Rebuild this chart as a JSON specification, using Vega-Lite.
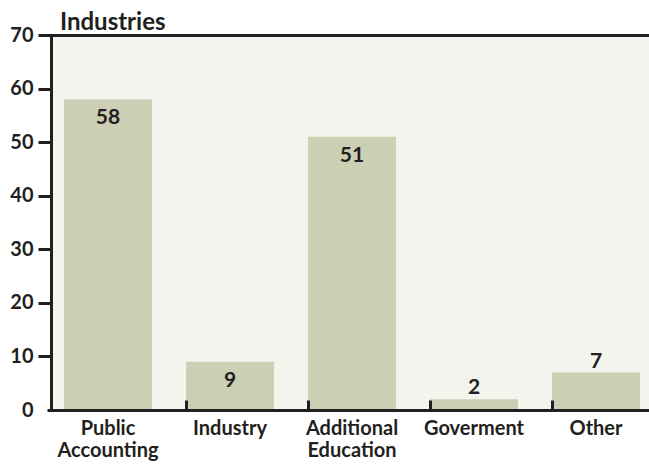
{
  "$schema": "https://vega.github.io/schema/vega-lite/v6.json",
  "width": 598,
  "height": 375,
  "autosize": {"type": "none"},
  "padding": {"left": 51, "top": 35, "right": 0, "bottom": 54},
  "background": "white",
  "title": {"text": "Industries", "anchor": "start", "frame": "group", "dx": 9, "offset": -29, "fontSize": 24, "font": "Lato", "fontWeight": "bold", "color": "#231f20", "baseline": "alphabetic"},
  "config": {"view": {"fill": "#f3f4ee", "stroke": null}, "font": "Lato"},
  "data": {"values": [
    {"industry": "Public Accounting", "count": 58},
    {"industry": "Industry", "count": 9},
    {"industry": "Additional Education", "count": 51},
    {"industry": "Goverment", "count": 2},
    {"industry": "Other", "count": 7}
  ]},
  "encoding": {
    "x": {"field": "industry", "type": "nominal", "sort": null,
      "scale": {"range": [-4, 606], "paddingInner": 0.28, "paddingOuter": 0.14},
      "axis": {"title": null, "labelAngle": 0, "labelFontSize": 20, "labelFont": "Lato", "labelFontWeight": "bold", "labelColor": "#231f20",
        "labelExpr": "split(datum.label, ' ')", "labelLineHeight": 22, "labelPadding": 18, "labelBaseline": "top",
        "domainColor": "#231f20", "domainWidth": 3, "tickColor": "#231f20", "tickWidth": 3, "tickSize": -10, "bandPosition": 0,
        "tickOpacity": {"condition": {"test": "datum.value === 'Public Accounting'", "value": 0}, "value": 1}, "zindex": 1}},
    "y": {"field": "count", "type": "quantitative", "scale": {"domain": [0, 70]},
      "axis": {"title": null, "values": [0, 10, 20, 30, 40, 50, 60, 70], "labelFontSize": 20, "labelFont": "Lato", "labelFontWeight": "bold", "labelColor": "#231f20",
        "labelPadding": 5, "tickSize": 13, "tickWidth": 3, "tickColor": "#231f20",
        "tickOpacity": {"condition": {"test": "datum.value === 0", "value": 0}, "value": 1},
        "domainColor": "#231f20", "domainWidth": 3, "grid": true, "gridColor": "#231f20", "gridWidth": 3,
        "gridOpacity": {"condition": {"test": "datum.value === 70", "value": 1}, "value": 0}, "zindex": 1}}
  },
  "layer": [
    {"mark": {"type": "bar", "color": "#cccfb3"}},
    {"transform": [{"filter": "datum.count >= 9"}],
     "mark": {"type": "text", "dy": 25, "baseline": "alphabetic", "fontSize": 21, "fontWeight": "bold", "color": "#231f20", "font": "Lato"},
     "encoding": {"text": {"field": "count", "type": "quantitative"}}},
    {"transform": [{"filter": "datum.count < 9"}],
     "mark": {"type": "text", "dy": -5, "baseline": "alphabetic", "fontSize": 21, "fontWeight": "bold", "color": "#231f20", "font": "Lato"},
     "encoding": {"text": {"field": "count", "type": "quantitative"}}}
  ]
}
